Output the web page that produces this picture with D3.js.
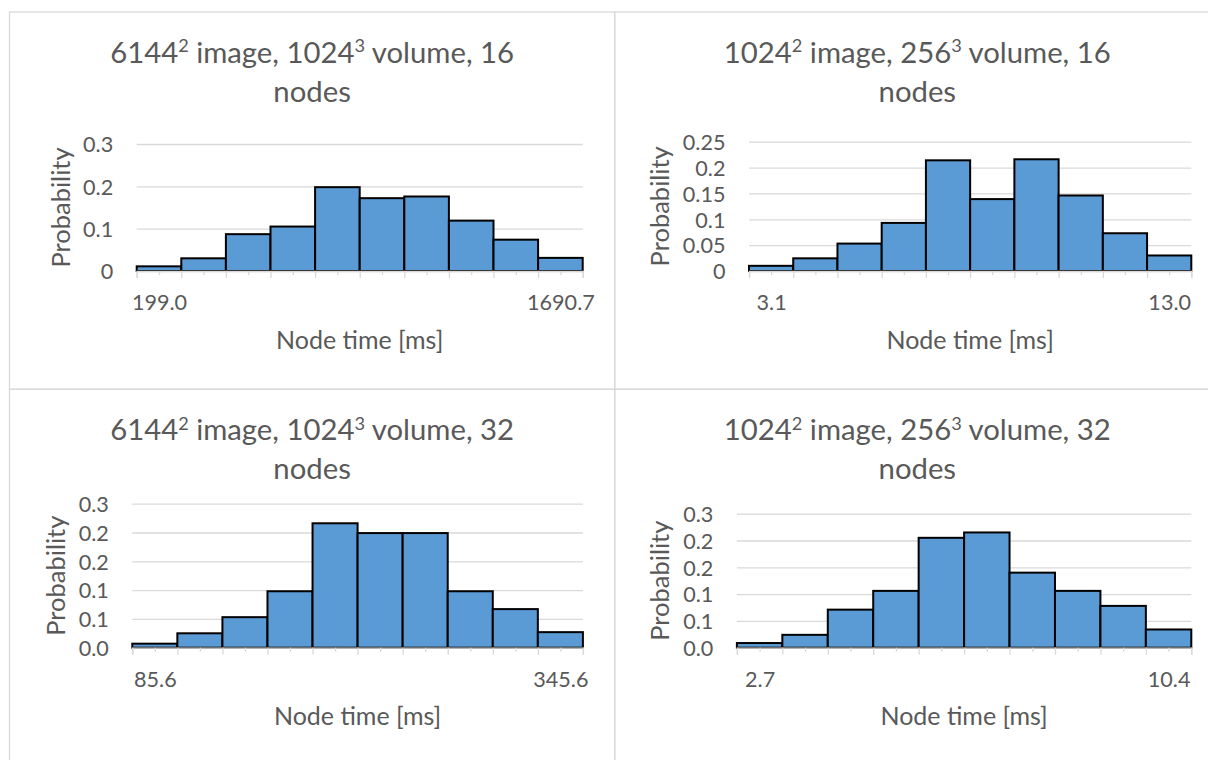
<!DOCTYPE html>
<html>
<head>
<meta charset="utf-8">
<script src="https://cdn.jsdelivr.net/npm/d3@7/dist/d3.min.js"></script>
<style>
  html, body { margin: 0; padding: 0; background: #ffffff; }
  svg { display: block; }
  text { font-family: "Lato", "Open Sans", sans-serif; fill: #595959; }
</style>
</head>
<body>
<svg id="chart" width="1208" height="760"></svg>
<script>
// ---------- DATA ----------
// Titles as segments: [text, isSuperscript]
const title1 = [["6144", false], ["2", true], [" image, 1024", false], ["3", true], [" volume, 16", false]];
const title2 = [["1024", false], ["2", true], [" image, 256", false], ["3", true], [" volume, 16", false]];
const title3 = [["6144", false], ["2", true], [" image, 1024", false], ["3", true], [" volume, 32", false]];
const title4 = [["1024", false], ["2", true], [" image, 256", false], ["3", true], [" volume, 32", false]];
const titleLine2 = "nodes";

const xAxisTitle = "Node time [ms]";
const yAxisTitle = "Probability";

// Probability per bin (10 bins each)
const probs1 = [0.011, 0.030, 0.087, 0.105, 0.198, 0.172, 0.176, 0.119, 0.074, 0.031];
const probs2 = [0.010, 0.0245, 0.053, 0.093, 0.214, 0.139, 0.216, 0.146, 0.073, 0.030];
const probs3 = [0.007, 0.025, 0.053, 0.098, 0.216, 0.199, 0.199, 0.098, 0.067, 0.027];
const probs4 = [0.0087, 0.024, 0.071, 0.106, 0.205, 0.215, 0.140, 0.106, 0.078, 0.034];

// X-axis labels shown under first and last bins
const xLabels1 = ["199.0", "1690.7"];
const xLabels2 = ["3.1", "13.0"];
const xLabels3 = ["85.6", "345.6"];
const xLabels4 = ["2.7", "10.4"];

// Y ticks and their labels
const yTicks1 = [0, 0.1, 0.2, 0.3];
const yTickLabels1 = ["0", "0.1", "0.2", "0.3"];
const yTicks2 = [0, 0.05, 0.1, 0.15, 0.2, 0.25];
const yTickLabels2 = ["0", "0.05", "0.1", "0.15", "0.2", "0.25"];
const yTicks3 = [0, 0.05, 0.1, 0.15, 0.2, 0.25];
const yTickLabels3 = ["0.0", "0.1", "0.1", "0.2", "0.2", "0.3"];
const yTicks4 = [0, 0.05, 0.1, 0.15, 0.2, 0.25];
const yTickLabels4 = ["0.0", "0.1", "0.1", "0.2", "0.2", "0.3"];

// ---------- LAYOUT ----------
const panels = [
  { title: title1, probs: probs1, xl: xLabels1, yt: yTicks1, ytl: yTickLabels1,
    box: [9.5, 12, 605.2, 377.3], plot: [136.7, 582.7, 144, 271], yTitleX: 70 },
  { title: title2, probs: probs2, xl: xLabels2, yt: yTicks2, ytl: yTickLabels2,
    box: [614.7, 12, 620, 377.3], plot: [749, 1191.3, 141.7, 271], yTitleX: 669 },
  { title: title3, probs: probs3, xl: xLabels3, yt: yTicks3, ytl: yTickLabels3,
    box: [9.5, 389.3, 605.2, 400], plot: [132.3, 582.9, 503.7, 647.7], yTitleX: 64.5 },
  { title: title4, probs: probs4, xl: xLabels4, yt: yTicks4, ytl: yTickLabels4,
    box: [614.7, 389.3, 620, 400], plot: [736.9, 1191.3, 513.7, 647.7], yTitleX: 669 }
];

const TITLE_SIZE = 29.3;
const AXIS_TITLE_SIZE = 25;
const Y_TITLE_SIZE = 25.5;
const TICK_SIZE = 21.6;
const GRID = "#d9d9d9";
const BAR_FILL = "#5b9bd5";

const svg = d3.select("#chart");

panels.forEach(p => {
  const [bx, by, bw, bh] = p.box;
  const [left, right, top, bottom] = p.plot;
  const g = svg.append("g");

  // border
  g.append("rect").attr("x", bx).attr("y", by).attr("width", bw).attr("height", bh)
    .attr("fill", "none").attr("stroke", GRID).attr("stroke-width", 1.3);

  const cx = bx + 605.2 / 2;

  // title
  const t = g.append("text").attr("x", cx).attr("y", by + 51)
    .attr("text-anchor", "middle").style("font-size", TITLE_SIZE + "px");
  const supShift = TITLE_SIZE * 0.36;
  p.title.forEach(([txt, sup], i) => {
    const ts = t.append("tspan").text(txt);
    if (sup) {
      ts.style("font-size", (TITLE_SIZE * 0.62) + "px").attr("dy", -supShift);
    } else if (i > 0 && p.title[i - 1][1]) {
      ts.attr("dy", supShift);
    }
  });
  g.append("text").attr("x", cx).attr("y", by + 90)
    .attr("text-anchor", "middle").style("font-size", TITLE_SIZE + "px").text(titleLine2);

  // scales
  const maxY = p.yt[p.yt.length - 1];
  const y = d3.scaleLinear().domain([0, maxY]).range([bottom, top]);
  const n = p.probs.length;
  const x = d3.scaleLinear().domain([0, n]).range([left, right]);

  // y gridlines + labels
  const yAxis = d3.axisLeft(y).tickValues(p.yt)
    .tickFormat((d, i) => p.ytl[i]).tickSize(-(right - left)).tickPadding(23.5);
  const ya = g.append("g").attr("transform", `translate(${left},0)`).call(yAxis);
  ya.select(".domain").remove();
  ya.selectAll(".tick line").attr("stroke", GRID).attr("stroke-width", 1.3);
  ya.selectAll(".tick text").style("font-size", TICK_SIZE + "px").attr("fill", "#595959")
    .style("font-family", null).attr("dy", "0.36em");

  // bars
  g.selectAll("rect.bar").data(p.probs).enter().append("rect")
    .attr("class", "bar")
    .attr("x", (d, i) => x(i))
    .attr("width", (d, i) => x(i + 1) - x(i))
    .attr("y", d => y(d))
    .attr("height", d => y(0) - y(d))
    .attr("fill", BAR_FILL).attr("stroke", "#000").attr("stroke-width", 2);

  // x axis: major ticks at bin edges
  const xMajor = d3.axisBottom(x).tickValues(d3.range(0, n + 1)).tickSize(7).tickFormat("");
  const xa = g.append("g").attr("transform", `translate(0,${bottom})`).call(xMajor);
  xa.select(".domain").attr("stroke", GRID).attr("stroke-width", 1.3);
  xa.selectAll(".tick line").attr("stroke", GRID).attr("stroke-width", 1.3);

  // minor ticks at bin centres
  const xMinor = d3.axisBottom(x).tickValues(d3.range(0, n).map(i => i + 0.5)).tickSize(4).tickFormat("");
  const xm = g.append("g").attr("transform", `translate(0,${bottom})`).call(xMinor);
  xm.select(".domain").remove();
  xm.selectAll(".tick line").attr("stroke", GRID).attr("stroke-width", 1.3);

  // labels under first and last bin
  const xLab = d3.axisBottom(x).tickValues([0.5, n - 0.5])
    .tickFormat((d, i) => p.xl[i]).tickSize(0);
  const xl = g.append("g").attr("transform", `translate(0,${bottom})`).call(xLab);
  xl.select(".domain").remove();
  xl.selectAll(".tick text").style("font-size", TICK_SIZE + "px").attr("fill", "#595959")
    .style("font-family", null).attr("y", 39).attr("dy", 0);

  // axis titles
  g.append("text").attr("x", (left + right) / 2).attr("y", bottom + 77.5)
    .attr("text-anchor", "middle").style("font-size", AXIS_TITLE_SIZE + "px").text(xAxisTitle);
  g.append("text")
    .attr("transform", `translate(${p.yTitleX},${(top + bottom) / 2}) rotate(-90)`)
    .attr("text-anchor", "middle").style("font-size", Y_TITLE_SIZE + "px").text(yAxisTitle);
});
</script>
</body>
</html>
